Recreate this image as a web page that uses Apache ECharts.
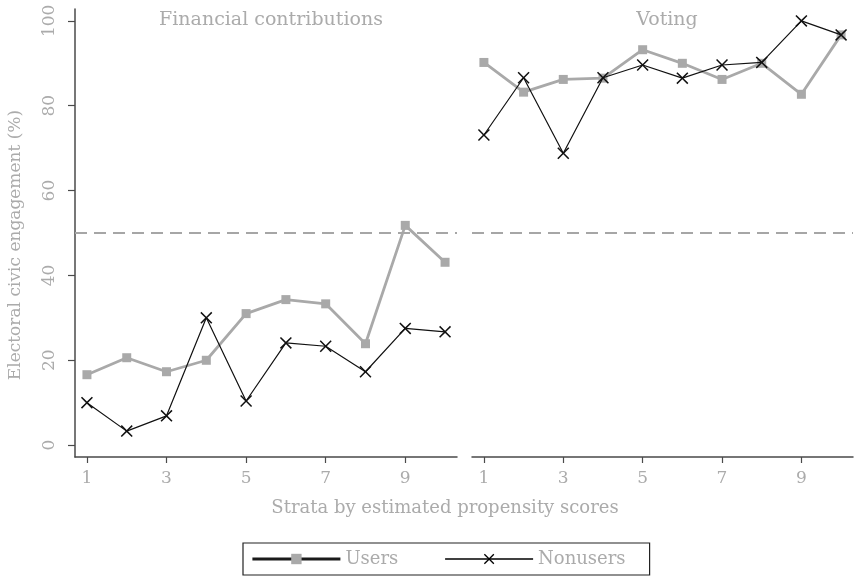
<!DOCTYPE html>
<html>
<head>
<meta charset="utf-8">
<title>Electoral civic engagement by propensity strata</title>
<script src="https://cdn.jsdelivr.net/npm/echarts@6/dist/echarts.min.js"></script>
<style>
  html, body { margin: 0; padding: 0; background: #fff; }
  #chart { width: 854px; height: 578px; }
</style>
</head>
<body>
<div id="chart"></div>
<script>
// Strata 1..10 of estimated propensity scores
const strata = [1, 2, 3, 4, 5, 6, 7, 8, 9, 10];
const xTickLabels = [1, 3, 5, 7, 9];
const yTickLabels = [0, 20, 40, 60, 80, 100];

// Financial contributions (%)
const financeUsers    = [16.6, 20.6, 17.3, 20.0, 31.0, 34.3, 33.3, 23.9, 51.8, 43.1];
const financeNonusers = [10.0, 3.3, 6.9, 30.0, 10.4, 24.1, 23.3, 17.3, 27.5, 26.7];

// Voting (%)
const votingUsers    = [90.2, 83.2, 86.2, 86.5, 93.2, 90.0, 86.2, 90.0, 82.7, 96.7];
const votingNonusers = [73.1, 86.6, 68.8, 86.6, 89.6, 86.5, 89.6, 90.2, 100.0, 96.7];

const panelTitles = ['Financial contributions', 'Voting'];
const xAxisTitle = 'Strata by estimated propensity scores';
const yAxisTitle = 'Electoral civic engagement (%)';
const referenceLevel = 50;

const FONT = 'DejaVu Serif';
const TEXT_GRAY = '#ababab';
const USER_GRAY = '#a9a9a9';
const AXIS_DARK = '#4a4a4a';

// Filled "x" marker
const crossPath = 'path://M0,0.9L0.9,0L5,4.1L9.1,0L10,0.9L5.9,5L10,9.1L9.1,10L5,5.9L0.9,10L0,9.1L4.1,5Z';

function pairs(values) {
  return strata.map((s, i) => [s, values[i]]);
}

function xAxisFor(gridIndex) {
  return {
    type: 'value', gridIndex: gridIndex,
    min: 0.7, max: 10.3,
    axisLine: { show: true, onZero: false, lineStyle: { color: AXIS_DARK, width: 1.5 } },
    axisTick: { show: true, length: 6, customValues: xTickLabels, lineStyle: { color: AXIS_DARK, width: 1.2 } },
    axisLabel: { customValues: xTickLabels, color: TEXT_GRAY, fontFamily: FONT, fontSize: 17, margin: 13 },
    splitLine: { show: false }
  };
}

function yAxisFor(gridIndex, visible) {
  return {
    type: 'value', gridIndex: gridIndex,
    min: -2.8, max: 102.8,
    show: visible,
    axisLine: { show: visible, onZero: false, lineStyle: { color: AXIS_DARK, width: 1.5 } },
    axisTick: { show: visible, length: 7, customValues: yTickLabels, lineStyle: { color: AXIS_DARK, width: 1.2 } },
    axisLabel: { show: visible, customValues: yTickLabels, rotate: 90, color: TEXT_GRAY, fontFamily: FONT, fontSize: 17, margin: 17 },
    splitLine: { show: false }
  };
}

const dashedRef = {
  silent: true,
  symbol: 'none',
  label: { show: false },
  lineStyle: { color: '#a6a6a6', width: 1.8, type: [12, 7] },
  data: [{ yAxis: referenceLevel }]
};

function usersSeries(values, idx) {
  return {
    name: 'Users', type: 'line',
    xAxisIndex: idx, yAxisIndex: idx,
    data: pairs(values),
    symbol: 'rect', symbolSize: 9,
    lineStyle: { color: USER_GRAY, width: 2.8 },
    itemStyle: { color: USER_GRAY },
    z: 2,
    markLine: dashedRef
  };
}

function nonusersSeries(values, idx) {
  return {
    name: 'Nonusers', type: 'line',
    xAxisIndex: idx, yAxisIndex: idx,
    data: pairs(values),
    symbol: crossPath, symbolSize: 12,
    lineStyle: { color: '#111', width: 1.2 },
    itemStyle: { color: '#111' },
    z: 3
  };
}

const titleStyle = { color: TEXT_GRAY, fontFamily: FONT, fontSize: 19, fontWeight: 'normal' };

const chart = echarts.init(document.getElementById('chart'));
chart.setOption({
  backgroundColor: '#fff',
  animation: false,
  title: [
    { text: panelTitles[0], left: 266, top: 6, textAlign: 'center', textStyle: titleStyle },
    { text: panelTitles[1], left: 662, top: 6, textAlign: 'center', textStyle: titleStyle },
    { text: xAxisTitle, left: 440, top: 494, textAlign: 'center',
      textStyle: Object.assign({}, titleStyle, { fontSize: 18 }) }
  ],
  graphic: [{
    type: 'text',
    x: 16, y: 245,
    rotation: Math.PI / 2,
    style: {
      text: yAxisTitle,
      fill: TEXT_GRAY,
      font: '17px "DejaVu Serif"',
      align: 'center',
      verticalAlign: 'middle'
    }
  }],
  grid: [
    { left: 75, top: 9, width: 382, height: 448 },
    { left: 472, top: 9, width: 381, height: 448 }
  ],
  xAxis: [xAxisFor(0), xAxisFor(1)],
  yAxis: [yAxisFor(0, true), yAxisFor(1, false)],
  legend: {
    left: 243, top: 543,
    orient: 'horizontal',
    borderColor: '#222', borderWidth: 1.2,
    padding: [7, 24, 7, 8],
    itemGap: 46,
    itemWidth: 88, itemHeight: 13,
    textStyle: { color: TEXT_GRAY, fontFamily: FONT, fontSize: 18 },
    data: [
      { name: 'Users',
        lineStyle: { color: '#1a1a1a', width: 2.8 },
        itemStyle: { color: USER_GRAY } },
      { name: 'Nonusers',
        lineStyle: { color: '#000', width: 1.6 },
        itemStyle: { color: '#000' } }
    ]
  },
  series: [
    usersSeries(financeUsers, 0),
    nonusersSeries(financeNonusers, 0),
    usersSeries(votingUsers, 1),
    nonusersSeries(votingNonusers, 1)
  ]
});
</script>
</body>
</html>
